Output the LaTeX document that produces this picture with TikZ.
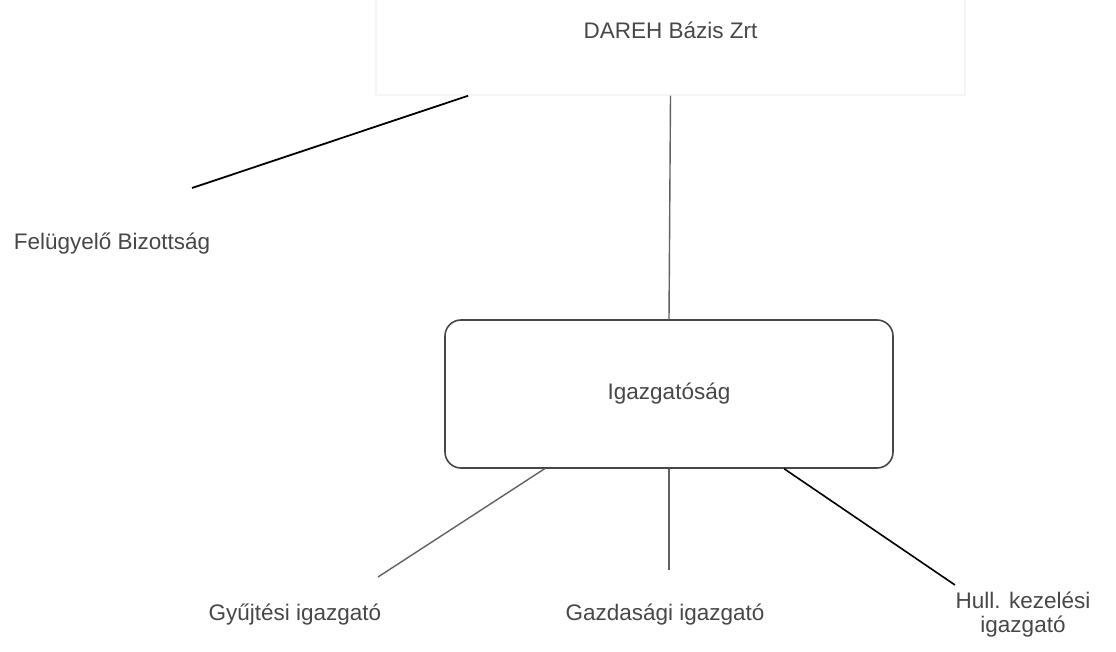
\documentclass[tikz,border=0pt]{standalone}
\usepackage{fontspec}
\setmainfont{Liberation Sans}
\usetikzlibrary{positioning}
\tikzset{
  orglabel/.style={font=\fontsize{22.5}{24}\selectfont,text=black!72,inner sep=2pt},
  topbox/.style={orglabel,rectangle,draw=black!4,line width=1.5pt,minimum width=589pt,minimum height=130pt},
  boardbox/.style={orglabel,rectangle,draw=black!72,line width=1.6pt,rounded corners=16pt,minimum width=448pt,minimum height=148pt},
  darkline/.style={black,line width=1.8pt},
  greyline/.style={black!62,line width=1.4pt}
}
\begin{document}
\begin{tikzpicture}[x=1pt,y=-1pt]
\useasboundingbox (0,0) rectangle (1116,652);
\node[topbox] (dareh) at (670.5,30) {DAREH Bázis Zrt};
\node[orglabel] (felugy) at (112,244) {Felügyelő Bizottság};
\node[boardbox] (igaz) at (669,394) {Igazgatóság};
\node[orglabel] (gyujt) at (295,615) {Gyűjtési igazgató};
\node[orglabel] (gazd) at (665,615) {Gazdasági igazgató};
\node[orglabel,align=center] (hull) at (1023,615) {Hull. kezelési\\igazgató};

\coordinate (felugy-in) at (192,188);
\coordinate (gyujt-in) at (378,577);
\coordinate (gazd-in) at (669,570);
\coordinate (hull-in) at (955,585);

\draw[greyline] (dareh.south) -- (igaz.north);
\draw[darkline] (dareh.198) -- (felugy-in);
\draw[greyline] (igaz.211) -- (gyujt-in);
\draw[greyline] (igaz.south) -- (gazd-in);
\draw[darkline,line width=1.6pt] (igaz.327) -- (hull-in);
\end{tikzpicture}
\end{document}
